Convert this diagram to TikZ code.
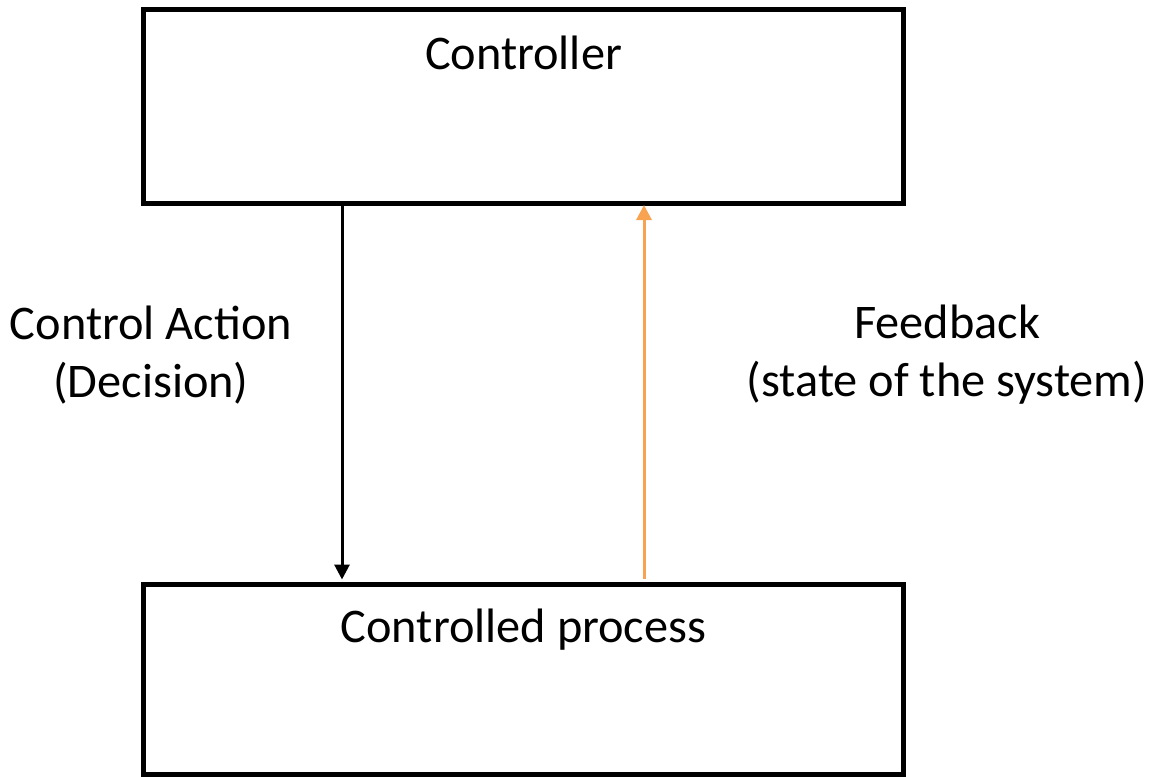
\documentclass[tikz,border=0pt]{standalone}
\usepackage{fontspec}
\setmainfont{Carlito}
\usetikzlibrary{arrows.meta}
\definecolor{fborange}{RGB}{248,163,82}
\begin{document}
\begin{tikzpicture}[x=1bp,y=-1bp,
  block/.style={draw=black,line width=5bp,rectangle,minimum width=759bp,inner sep=0pt},
  lbl/.style={font=\fontsize{48.5}{58}\selectfont,align=center,inner sep=0pt},
  flow/.style={line width=3bp,-{Triangle[length=15bp,width=15bp]}}]
  \useasboundingbox (0,0) rectangle (1151,777);
  % the two blocks
  \node[block,minimum height=193.5bp] (ctrl) at (523.5,106.25) {};
  \node[block,minimum height=190bp] (proc) at (523.5,679) {};
  \node[lbl,anchor=north] (ctrltxt) at ([yshift=-29bp]ctrl.north) {Controller};
  \node[lbl,anchor=north] (proctxt) at ([yshift=-27bp]proc.north) {Controlled process};
  % columns of the two connectors
  \coordinate (down) at (342,0);
  \coordinate (up) at (644,0);
  \draw[flow,black,shorten >=2bp] (ctrl.south -| down) -- (proc.north -| down);
  \draw[flow,fborange,shorten >=-0.5bp,shorten <=2.5bp] (proc.north -| up) -- (ctrl.south -| up);
  % connector labels
  \node[lbl] (act) at (151,355) {Control Action\\(Decision)};
  \node[lbl] (fb) at (947,355) {Feedback\\(state of the system)};
\end{tikzpicture}
\end{document}
